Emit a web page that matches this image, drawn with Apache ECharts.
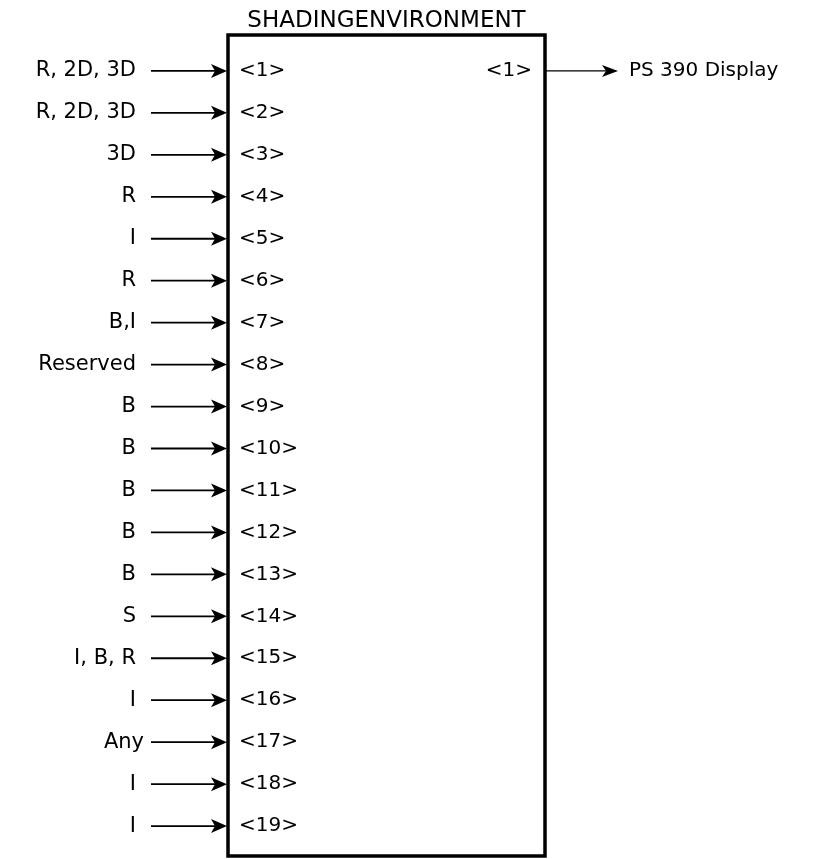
<!DOCTYPE html>
<html>
<head>
<meta charset="utf-8">
<script src="https://cdn.jsdelivr.net/npm/echarts@6/dist/echarts.min.js"></script>
<style>
    html, body { margin: 0; padding: 0; background: #fff; }
    #main { width: 830px; height: 859px; }
</style>
</head>
<body>
<div id="main"></div>
<script>
// function block and its ports
let blockName = "SHADINGENVIRONMENT";
let inputPorts = [1, 2, 3, 4, 5, 6, 7, 8, 9, 10, 11, 12, 13, 14, 15, 16, 17, 18, 19];
let inputTypes = [
    "R, 2D, 3D", "R, 2D, 3D", "3D", "R", "I", "R", "B,I", "Reserved",
    "B", "B", "B", "B", "B", "S", "I, B, R", "I", "Any", "I", "I"
];
let outputPorts = [1];
let outputTargets = ["PS 390 Display"];

let myChart = echarts.init(document.getElementById("main"));
let font = "DejaVu Sans";
let ink = "#000";

// arrow head pointing right, tip at (x, y)
function arrowHead(x, y, len, half) {
    return {
        type: "polygon",
        shape: { points: [[x, y], [x - len, y - half], [x - len + 4, y], [x - len, y + half]] },
        style: { fill: ink }
    };
}

function renderInput(params, api) {
    let p = api.coord([0, api.value(1)]);
    let idx = api.value(2);
    let x = p[0] - 1, y = p[1];
    // the "Any" label sits right against its arrow
    let gap = inputTypes[idx] === "Any" ? 83 : 91;
    return {
        type: "group",
        children: [
            { type: "line", shape: { x1: x - 76, y1: y, x2: x - 10, y2: y }, style: { stroke: ink, lineWidth: 1.8 } },
            arrowHead(x, y, 16, 7),
            { type: "text", x: x - gap, y: y, style: { text: inputTypes[idx], font: "21px " + font, fill: ink, align: "right", verticalAlign: "middle" } },
            { type: "text", x: x + 12, y: y, style: { text: "<" + inputPorts[idx] + ">", font: "20px " + font, fill: ink, align: "left", verticalAlign: "middle" } }
        ]
    };
}

function renderOutput(params, api) {
    let p = api.coord([1, api.value(1)]);
    let idx = api.value(2);
    let x = p[0] + 1, y = p[1];
    return {
        type: "group",
        children: [
            { type: "line", shape: { x1: x, y1: y, x2: x + 62, y2: y }, style: { stroke: ink, lineWidth: 1.2 } },
            arrowHead(x + 72, y, 16, 6),
            { type: "text", x: x - 14, y: y, style: { text: "<" + outputPorts[idx] + ">", font: "20px " + font, fill: ink, align: "right", verticalAlign: "middle" } },
            { type: "text", x: x + 83, y: y, style: { text: outputTargets[idx], font: "20px " + font, fill: ink, align: "left", verticalAlign: "middle" } }
        ]
    };
}

let option = {
    backgroundColor: "#fff",
    animation: false,
    grid: {
        left: 228,
        right: 285,
        top: 35,
        bottom: 3,
        show: true,
        borderColor: "#000",
        borderWidth: 3.5
    },
    xAxis: {
        type: "value",
        min: 0,
        max: 1,
        position: "top",
        name: blockName,
        nameLocation: "middle",
        nameGap: 2,
        nameTextStyle: { fontFamily: font, fontSize: 23, color: ink, verticalAlign: "bottom" },
        axisLine: { show: false },
        axisTick: { show: false },
        axisLabel: { show: false },
        splitLine: { show: false }
    },
    yAxis: {
        type: "value",
        inverse: true,
        min: 0.144,
        max: 19.713,
        show: false
    },
    series: [
        {
            type: "custom",
            clip: false,
            renderItem: renderInput,
            data: inputPorts.map((v, i) => [0, v, i])
        },
        {
            type: "custom",
            clip: false,
            renderItem: renderOutput,
            data: outputPorts.map((v, i) => [1, v, i])
        }
    ]
};
myChart.setOption(option);
</script>
</body>
</html>
